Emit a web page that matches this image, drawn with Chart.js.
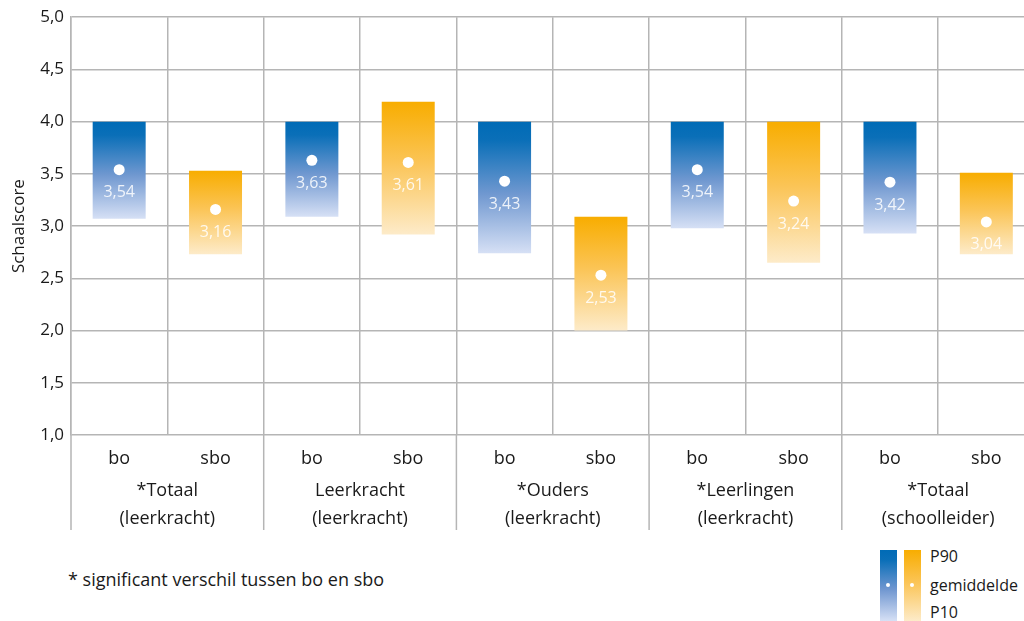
<!DOCTYPE html>
<html>
<head>
<meta charset="utf-8">
<script src="https://cdn.jsdelivr.net/npm/chart.js@4/dist/chart.umd.min.js"></script>
<style>
    body { margin: 0; width: 1024px; height: 621px; overflow: hidden; background: #fff; font-family: "Open Sans", sans-serif; color: #1a1a1a; position: relative; }
    #chart { position: absolute; left: 0; top: 0; }
    .note { position: absolute; left: 68px; top: 567px; font-size: 18px; }
    .lgbar { position: absolute; top: 550px; width: 17px; height: 71px; }
    .lgbar.blue { left: 880px; background: linear-gradient(#006bb6 0%, #0a6fb8 14%, #6f96d0 55%, #d6e0f5 100%); }
    .lgbar.orange { left: 904px; background: linear-gradient(#f8ad00 0%, #fbc455 45%, #fdebc9 100%); }
    .lgbar span { position: absolute; left: 6px; top: 33px; width: 4px; height: 4px; border-radius: 50%; background: #fff; }
    .lgtxt { position: absolute; left: 930px; font-size: 16px; line-height: 18px; }
</style>
</head>
<body>
<canvas id="chart" width="1040" height="540"></canvas>
<div class="note">* significant verschil tussen bo en sbo</div>
<div class="lgbar blue"><span></span></div>
<div class="lgbar orange"><span></span></div>
<div class="lgtxt" style="top:547px">P90</div>
<div class="lgtxt" style="top:576px">gemiddelde</div>
<div class="lgtxt" style="top:603px">P10</div>
<script>
let categories = ['bo', 'sbo', 'bo', 'sbo', 'bo', 'sbo', 'bo', 'sbo', 'bo', 'sbo'];
let groups = [
    ['*Totaal', '(leerkracht)'],
    ['Leerkracht', '(leerkracht)'],
    ['*Ouders', '(leerkracht)'],
    ['*Leerlingen', '(leerkracht)'],
    ['*Totaal', '(schoolleider)']
];
let p10 = [3.07, 2.73, 3.09, 2.92, 2.74, 2.00, 2.98, 2.65, 2.93, 2.73];
let p90 = [4.00, 3.53, 4.00, 4.19, 4.00, 3.09, 4.00, 4.00, 4.00, 3.51];
let means = [3.54, 3.16, 3.63, 3.61, 3.43, 2.53, 3.54, 3.24, 3.42, 3.04];
let yTicks = [1.0, 1.5, 2.0, 2.5, 3.0, 3.5, 4.0, 4.5, 5.0];

const gridColor = '#b5b5b5';
const fontName = '"Open Sans", sans-serif';

function comma(v, d) {
    return v.toFixed(d).replace('.', ',');
}

function barFill(ctx) {
    let chart = ctx.chart;
    if (!chart.chartArea || ctx.type !== 'data') return '#006bb6';
    let i = ctx.dataIndex;
    let y = chart.scales.y;
    let top = y.getPixelForValue(p90[i]);
    let bot = y.getPixelForValue(p10[i]);
    let g = chart.ctx.createLinearGradient(0, top, 0, bot);
    if (i % 2 == 0) {
        g.addColorStop(0, '#006bb6');
        g.addColorStop(0.14, '#0a6fb8');
        g.addColorStop(0.55, '#7098d0');
        g.addColorStop(1, '#d6e0f5');
    } else {
        g.addColorStop(0, '#f8ad00');
        g.addColorStop(0.45, '#fbc455');
        g.addColorStop(1, '#fdebc9');
    }
    return g;
}

// group labels under the bo/sbo ticks, plus the long separators
const groupPlugin = {
    id: 'groups',
    afterDraw(chart) {
        let x = chart.scales.x;
        let c = chart.ctx;
        let area = chart.chartArea;
        let col = (area.right - area.left) / categories.length;
        c.save();
        c.strokeStyle = gridColor;
        c.lineWidth = 1.5;
        for (let g = 0; g <= groups.length; g++) {
            let px = area.left + g * 2 * col;
            c.beginPath();
            c.moveTo(px, area.bottom);
            c.lineTo(px, 530);
            c.stroke();
        }
        c.fillStyle = '#1a1a1a';
        c.font = '18px ' + fontName;
        c.textAlign = 'center';
        c.textBaseline = 'middle';
        for (let g = 0; g < groups.length; g++) {
            let cx = (x.getPixelForValue(2 * g) + x.getPixelForValue(2 * g + 1)) / 2;
            c.fillText(groups[g][0], cx, 491);
            c.fillText(groups[g][1], cx, 519);
        }
        c.restore();
    }
};

// value text under each mean dot
const meanLabels = {
    id: 'meanLabels',
    afterDatasetsDraw(chart) {
        let meta = chart.getDatasetMeta(1);
        let c = chart.ctx;
        c.save();
        c.fillStyle = 'rgba(255,255,255,0.85)';
        c.font = '16px ' + fontName;
        c.textAlign = 'center';
        c.textBaseline = 'middle';
        meta.data.forEach(function(pt, i) {
            c.fillText(comma(means[i], 2), pt.x, pt.y + 23);
        });
        c.restore();
    }
};

let ranges = p10.map(function(lo, i) { return [lo, p90[i]]; });

new Chart(document.getElementById('chart'), {
    type: 'bar',
    data: {
        labels: categories,
        datasets: [{
            data: ranges,
            backgroundColor: barFill,
            borderWidth: 0,
            barPercentage: 0.55,
            categoryPercentage: 1,
            order: 2
        }, {
            type: 'line',
            data: means,
            showLine: false,
            pointRadius: 5.5,
            pointBackgroundColor: '#fff',
            pointBorderWidth: 0,
            order: 1
        }]
    },
    options: {
        responsive: false,
        animation: false,
        layout: { padding: { top: 12, right: 5, left: 9, bottom: 0 } },
        plugins: {
            legend: { display: false },
            tooltip: { enabled: false }
        },
        scales: {
            x: {
                grid: { color: gridColor, lineWidth: 1.5, drawTicks: false, offset: true },
                border: { display: false },
                ticks: { color: '#1a1a1a', font: { family: fontName, size: 18 }, padding: 13 },
                afterFit: function(s) { s.height = 105; }
            },
            y: {
                min: 1,
                max: 5,
                grid: { color: gridColor, lineWidth: 1.5, drawTicks: false },
                border: { color: gridColor, width: 1.5 },
                afterBuildTicks: function(s) {
                    s.ticks = yTicks.map(function(v) { return { value: v }; });
                },
                ticks: {
                    color: '#1a1a1a',
                    font: { family: fontName, size: 17 },
                    padding: 7,
                    callback: function(v) { return comma(v, 1); }
                },
                title: {
                    display: true,
                    text: 'Schaalscore',
                    color: '#1a1a1a',
                    font: { family: fontName, size: 17 },
                    padding: { top: 0, bottom: 0 }
                },
                afterFit: function(s) { s.width = 62; }
            }
        }
    },
    plugins: [groupPlugin, meanLabels]
});
</script>
</body>
</html>
